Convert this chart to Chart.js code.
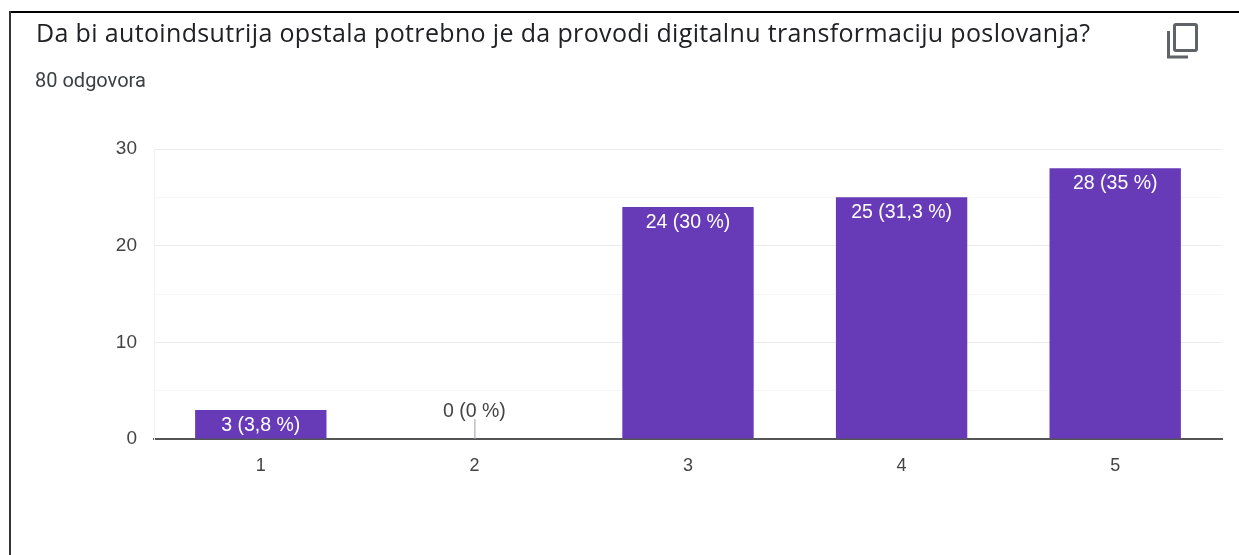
<!DOCTYPE html>
<html><head><meta charset="utf-8">
<style>
html,body{margin:0;padding:0;background:#fff;overflow:hidden}
#wrap{position:relative;width:1239px;height:555px}
#frameT{position:absolute;left:9px;top:11px;width:1230px;height:2px;background:#000}
#frameL{position:absolute;left:9px;top:11px;width:2px;height:544px;background:#333}
#title{position:absolute;left:36px;top:15px;font:25px "Open Sans",sans-serif;letter-spacing:.35px;color:#202124;white-space:nowrap}
#sub{position:absolute;left:35px;top:68px;font:20px Roboto,sans-serif;color:#3c4043;white-space:nowrap}
#icon{position:absolute;left:1166px;top:22px}
canvas{position:absolute;left:0;top:0}
</style></head><body>
<div id="wrap">
<canvas id="c" width="1239" height="555"></canvas>
<div id="frameT"></div><div id="frameL"></div>
<div id="title">Da bi autoindsutrija opstala potrebno je da provodi digitalnu transformaciju poslovanja?</div>
<div id="sub">80 odgovora</div>
<svg id="icon" width="34" height="38" viewBox="0 0 34 38"><path d="M2.5 9V35H22" fill="none" stroke="#5f6368" stroke-width="3"/><rect x="8.5" y="2.5" width="22" height="26" rx="1.5" fill="none" stroke="#5f6368" stroke-width="3"/></svg>
</div>
<script src="https://cdn.jsdelivr.net/npm/chart.js@4"></script>
<script>
const categories = ["1","2","3","4","5"];
const values = [3,0,24,25,28];
const valueLabels = ["3 (3,8 %)","0 (0 %)","24 (30 %)","25 (31,3 %)","28 (35 %)"];
const yLabelledTicks = [0,10,20,30];

const labelPlugin = {
  id:'labels',
  afterDatasetsDraw(chart){
    const ctx=chart.ctx, x=chart.scales.x, y=chart.scales.y;
    ctx.save();
    ctx.font='19.5px "Liberation Sans",Arial,sans-serif';
    ctx.textAlign='center';ctx.textBaseline='middle';
    values.forEach((v,i)=>{
      const px=x.getPixelForValue(i), py=y.getPixelForValue(v);
      if(v===0){
        ctx.strokeStyle='#9aa0a6';ctx.lineWidth=1;
        ctx.beginPath();ctx.moveTo(px+.5,py);ctx.lineTo(px+.5,py-20);ctx.stroke();
        ctx.fillStyle='#444';ctx.fillText(valueLabels[i],px,py-27);
      }else{
        ctx.fillStyle='#fff';ctx.fillText(valueLabels[i],px,py+15.5);
      }
    });
    ctx.restore();
  }
};
new Chart(document.getElementById('c'),{
  type:'bar',
  data:{labels:categories,datasets:[{data:values,backgroundColor:'#673ab7',categoryPercentage:1,barPercentage:0.615}]},
  plugins:[labelPlugin],
  options:{
    responsive:false,animation:false,
    layout:{padding:{top:149,right:17,left:0,bottom:0}},
    plugins:{legend:{display:false},tooltip:{enabled:false},title:{display:false}},
    scales:{
      x:{
        afterFit(s){s.height=116;},
        grid:{display:false,drawTicks:false},
        border:{color:'#555',width:2},
        ticks:{color:'#444',font:{family:'"Liberation Sans",Arial,sans-serif',size:18},padding:16,maxRotation:0}
      },
      y:{
        min:0,max:30,
        afterFit(s){s.width=154;},
        afterBuildTicks(s){s.ticks=[0,5,10,15,20,25,30].map(v=>({value:v}));},
        grid:{drawTicks:false,color:c=>c.tick.value%10===0?'#ececec':'#f6f6f6',lineWidth:1},
        border:{color:'#f0f0f0',width:1},
        ticks:{color:'#444',padding:17,font:{family:'"Liberation Sans",Arial,sans-serif',size:19},
          callback:v=>yLabelledTicks.includes(v)?String(v):''}
      }
    }
  }
});
</script>
</body></html>
